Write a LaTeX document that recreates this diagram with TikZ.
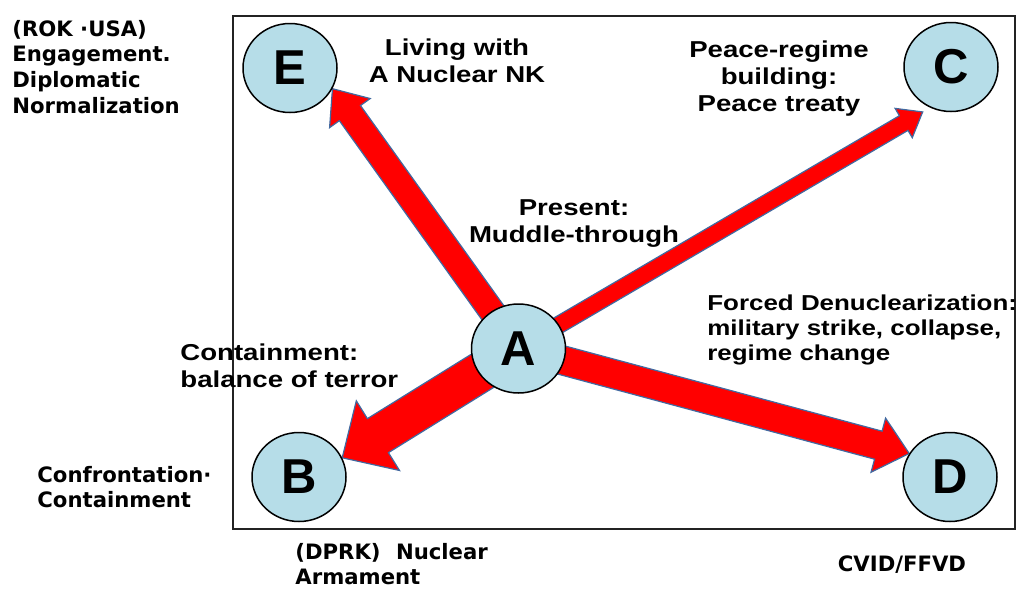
\documentclass[tikz,border=0pt]{standalone}
\usepackage{fontspec}
\setmainfont{Liberation Sans}
\newfontfamily\lblfont[FakeStretch=1.2]{Liberation Sans}
\newfontfamily\outfont{DejaVu Sans}
\usetikzlibrary{calc,backgrounds,shapes.geometric}
\definecolor{scenblue}{RGB}{182,221,232}
\definecolor{arrowline}{RGB}{65,105,160}
\definecolor{framegray}{RGB}{35,35,35}

% block arrow: from, tip, half shaft, half head, head length
\newcommand{\scenarioarrow}[5]{%
  \path (#2) coordinate (tip) ($(#2)!#5!(#1)$) coordinate (neck);
  \draw[fatarrow] ($(#1)!#3!90:(tip)$) -- ($(neck)!#3!90:(tip)$) -- ($(neck)!#4!90:(tip)$) -- (tip)
    -- ($(neck)!#4!-90:(tip)$) -- ($(neck)!#3!-90:(tip)$) -- ($(#1)!#3!-90:(tip)$) -- cycle;
}

\begin{document}
\begin{tikzpicture}[x=0.5pt,y=-0.5pt,
  scen/.style={draw,ellipse,fill=scenblue,line width=0.75pt,minimum width=47pt,minimum height=44.5pt,
    inner sep=0pt,font=\bfseries\fontsize{24.5}{26}\selectfont},
  fatarrow/.style={fill=red,draw=arrowline,line width=0.6pt},
  lbl/.style={inner sep=0pt,align=center,font=\lblfont\bfseries\fontsize{11.5}{13.5}\selectfont},
  outer/.style={inner sep=0pt,anchor=west,align=left,font=\outfont\bfseries\fontsize{10.6}{12.9}\selectfont}]
  \useasboundingbox (0,0) rectangle (1018,590);
  \draw[framegray,line width=1pt] (233,16) rectangle (1015,529);

  \node[scen](E) at (290,68) {E};
  \node[scen](C) at (951,67) {C};
  \node[scen](A) at (518.5,348.5) {A};
  \node[scen](B) at (299,477) {B};
  \node[scen](D) at (950,477) {D};
  \coordinate (tipC) at ($(C.238)+(-4,6)$);

  \begin{scope}[on background layer]
    \scenarioarrow{A}{E.-26}{6.5pt}{12.5pt}{15pt}
    \scenarioarrow{A}{tipC}{4.25pt}{8.5pt}{11pt}
    \scenarioarrow{A}{B.24}{10pt}{20.5pt}{21pt}
    \scenarioarrow{A}{D.150}{7.25pt}{14pt}{16pt}
  \end{scope}

  \node[lbl](living) at (457,61) {Living with\\A Nuclear NK};
  \node[lbl](peace) at (779,79) {Peace-regime\\building:\\Peace treaty};
  \node[lbl](present) at (574,224) {Present:\\Muddle-through};
  \node[lbl,anchor=west,align=left](contain) at (180,366) {Containment:\\balance of terror};
  \node[lbl,anchor=west,align=left,font=\lblfont\bfseries\fontsize{10.8}{12.5}\selectfont](forced) at (707,330)
    {Forced Denuclearization:\\military strike, collapse,\\regime change};

  \node[outer](rokusa) at (12,67) {(ROK ·USA)\\Engagement.\\Diplomatic\\Normalization};
  \node[outer](confront) at (37,487) {Confrontation·\\Containment};
  \node[outer](dprk) at (295,564) {(DPRK)\hspace{4pt} Nuclear\\Armament};
  \node[outer,anchor=center](cvid) at (902,565) {CVID/FFVD};
\end{tikzpicture}
\end{document}
